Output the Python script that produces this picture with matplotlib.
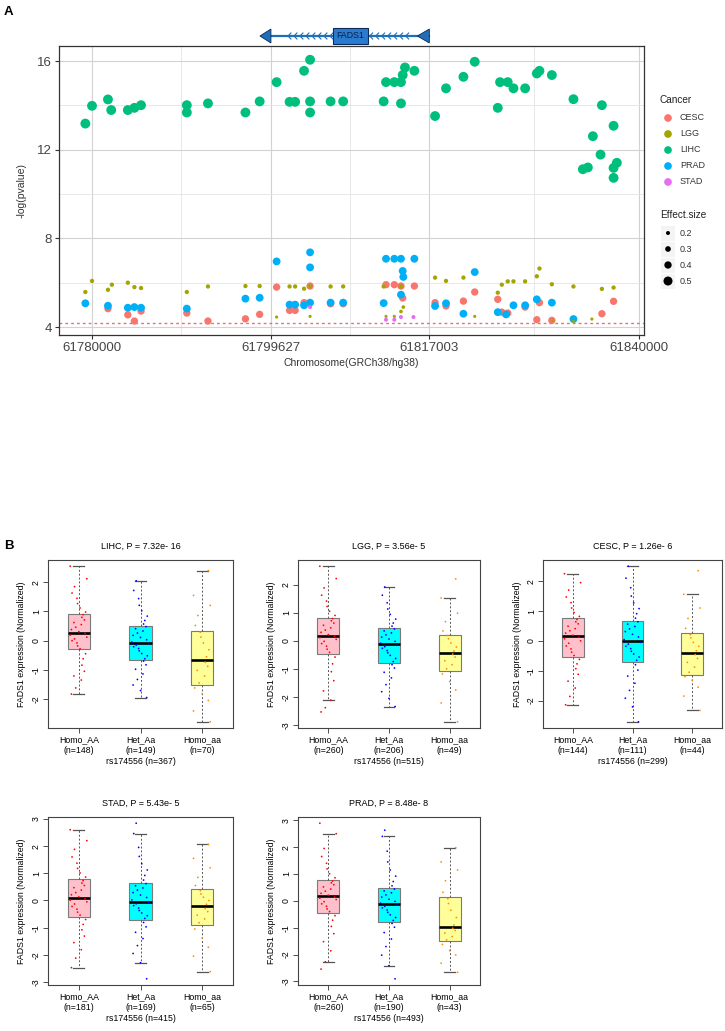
import numpy as np
import matplotlib
matplotlib.use("Agg")
import matplotlib.pyplot as plt
from matplotlib.patches import Rectangle, Polygon

plt.rcParams['font.family'] = ['Liberation Sans', 'DejaVu Sans']

# ---------------- Panel A data ----------------
X_TICKS = [61780000, 61799627, 61817003, 61840000]
Y_TICKS = [4, 8, 12, 16]
GENE_NAME = "FADS1"
GENE_START, GENE_END = 61799627, 61817003
THRESHOLD = 4.17

CANCERS = ["CESC", "LGG", "LIHC", "PRAD", "STAD"]
CANCER_COLORS = ["#F8766D", "#A3A500", "#00BF7D", "#00B0F6", "#E76BF3"]
SIZE_BREAKS = [0.2, 0.3, 0.4, 0.5]

LIHC_POS = [61779270, 61780000, 61781750, 61782110, 61783930, 61784650, 61785380,
            61790400, 61790400, 61792720, 61796830, 61798390, 61800250, 61801670,
            61802280, 61803260, 61803920, 61803920, 61803920, 61806170, 61807550,
            61811990, 61812250, 61813160, 61813890, 61813890, 61814080, 61814330,
            61815360, 61817630, 61818830, 61820740, 61821980, 61824510, 61824760,
            61825600, 61826230, 61827510, 61828790, 61829080, 61830440, 61832810,
            61835930, 61837210, 61834940, 61835780, 61833840, 61834390, 61837210,
            61837570, 61837210]
LIHC_LOGP = [13.18, 13.98, 14.27, 13.79, 13.79, 13.89, 14.01, 14.01, 13.68, 14.09,
             13.68, 14.18, 15.05, 14.16, 14.16, 15.56, 16.06, 14.18, 13.68, 14.18,
             14.18, 14.18, 15.05, 15.05, 15.05, 14.09, 15.37, 15.71, 15.56, 13.52,
             14.77, 15.29, 15.97, 13.89, 15.05, 15.05, 14.77, 14.77, 15.44, 15.56,
             15.37, 14.28, 14.01, 13.08, 12.61, 11.78, 11.12, 11.20, 11.18, 11.41,
             10.73]
LIHC_ES = 0.55

PRAD_POS = [61779270, 61781750, 61783930, 61784650, 61785380, 61790400, 61796830,
            61798390, 61800250, 61801670, 61802280, 61803260, 61803920, 61803920,
            61803920, 61806170, 61807550, 61811990, 61812250, 61813160, 61813890,
            61815360, 61814080, 61814150, 61813890, 61817630, 61818830, 61820740,
            61821980, 61824510, 61825420, 61826230, 61827510, 61828790, 61830440,
            61832810]
PRAD_LOGP = [5.07, 4.96, 4.87, 4.90, 4.87, 4.83, 5.28, 5.32, 6.96, 5.01, 5.01, 4.98,
             7.37, 6.69, 5.10, 5.10, 5.10, 5.08, 7.08, 7.08, 7.08, 7.08, 6.53, 6.26,
             5.46, 4.95, 5.07, 4.60, 6.48, 4.67, 4.57, 4.98, 4.98, 5.25, 5.10, 4.36]
PRAD_ES = 0.43

CESC_POS = [61781750, 61783930, 61784650, 61785380, 61790400, 61792720, 61796830,
            61798390, 61800250, 61801670, 61802280, 61803260, 61803920, 61806170,
            61807550, 61812250, 61813160, 61813890, 61815360, 61814080, 61817630,
            61818830, 61820740, 61821980, 61824510, 61824950, 61825600, 61827510,
            61828790, 61829080, 61830440, 61835930, 61837210]
CESC_LOGP = [4.83, 4.55, 4.27, 4.72, 4.63, 4.27, 4.37, 4.57, 5.80, 4.75, 4.75, 5.10,
             5.85, 5.05, 5.05, 5.91, 5.91, 5.85, 5.85, 5.31, 5.10, 4.95, 5.17, 5.58,
             5.25, 4.67, 4.63, 4.90, 4.33, 5.10, 4.30, 4.60, 5.16]
CESC_ES = 0.40

LGG_POS = [61779270, 61780000, 61781750, 61782180, 61783930, 61784650, 61785380,
           61790400, 61792720, 61796830, 61798390, 61800250, 61801670, 61802280,
           61803260, 61803920, 61803920, 61806170, 61807550, 61811990, 61813890,
           61814150, 61813890, 61812250, 61813160, 61817630, 61818830, 61820740,
           61821980, 61824510, 61824950, 61825600, 61826230, 61827510, 61828790,
           61829080, 61830440, 61830550, 61832810, 61832810, 61834830, 61835930,
           61837210]
LGG_LOGP = [5.58, 6.08, 5.68, 5.91, 6.00, 5.80, 5.76, 5.58, 5.83, 5.85, 5.85, 4.45,
            5.83, 5.83, 5.73, 5.83, 4.48, 5.83, 5.83, 5.83, 5.83, 4.90, 4.70, 4.48,
            4.48, 6.23, 6.08, 6.23, 4.48, 5.55, 5.91, 6.06, 6.06, 6.06, 6.29, 6.64,
            5.93, 4.30, 5.83, 4.25, 4.36, 5.72, 5.78]
LGG_ES = [0.22, 0.22, 0.22, 0.22, 0.22, 0.22, 0.22, 0.22, 0.22, 0.22, 0.22, 0.15,
          0.22, 0.22, 0.22, 0.22, 0.15, 0.22, 0.22, 0.22, 0.22, 0.18, 0.18, 0.15,
          0.15, 0.22, 0.22, 0.22, 0.15, 0.22, 0.22, 0.22, 0.22, 0.22, 0.22, 0.22,
          0.22, 0.15, 0.22, 0.15, 0.15, 0.22, 0.22]

STAD_POS = [61803920, 61812250, 61813160, 61813890, 61815260]
STAD_LOGP = [4.90, 4.33, 4.33, 4.45, 4.45]
STAD_ES = 0.20

# ---------------- Panel B data ----------------
GENOTYPES = ["Homo_AA", "Het_Aa", "Homo_aa"]
SNP = "rs174556"
BOX_FILLS = ["#FFC0CB", "#00FFFF", "#FFFF99"]
POINT_COLORS = ["#FF0000", "#0000FF", "#FF8C00"]

# (whislo, q1, median, q3, whishi) per genotype
LIHC_BOX = [(-1.83, -0.30, 0.27, 0.92, 2.55), (-1.95, -0.65, -0.08, 0.51, 2.05), (-2.78, -1.53, -0.68, 0.34, 2.40)]
LGG_BOX = [(-2.11, -0.46, 0.18, 0.82, 2.65), (-2.34, -0.79, -0.13, 0.46, 1.91), (-2.88, -1.08, -0.42, 0.22, 1.52)]
CESC_BOX = [(-2.14, -0.55, 0.15, 0.76, 2.25), (-2.71, -0.71, -0.01, 0.68, 2.50), (-2.33, -1.14, -0.40, 0.25, 1.56)]
STAD_BOX = [(-2.47, -0.60, 0.08, 0.78, 2.60), (-2.29, -0.72, -0.04, 0.66, 2.46), (-2.62, -0.89, -0.22, 0.41, 2.06)]
PRAD_BOX = [(-2.27, -0.46, 0.17, 0.78, 2.50), (-2.41, -0.79, -0.13, 0.48, 2.40), (-2.66, -1.50, -0.99, 0.15, 1.98)]

LIHC_N = [148, 149, 70]
LGG_N = [260, 206, 49]
CESC_N = [144, 111, 44]
STAD_N = [181, 169, 65]
PRAD_N = [260, 190, 43]

PVALUES = {"LIHC": "7.32e- 16", "LGG": "3.56e- 5", "CESC": "1.26e- 6",
           "STAD": "5.43e- 5", "PRAD": "8.48e- 8"}

LIHC_AA = [-1.83, -1.62, -1.35, -1.21, -1.05, -0.84, -0.62, -0.45, -0.28, -0.18, -0.08, 0.0,
           0.06, 0.12, 0.19, 0.25, 0.31, 0.38, 0.46, 0.55, 0.62, 0.71, 0.80, 0.89,
           0.98, 1.12, 1.27, 1.45, 1.63, 1.85, 2.12, 2.55]
LIHC_Aa = [-1.95, -1.71, -1.52, -1.33, -1.14, -0.98, -0.83, -0.70, -0.62, -0.52, -0.44, -0.35,
           -0.27, -0.21, -0.15, -0.10, -0.05, 0.03, 0.11, 0.18, 0.26, 0.33, 0.41, 0.48,
           0.57, 0.69, 0.84, 1.02, 1.21, 1.44, 1.72, 2.05]
LIHC_aa = [-2.78, -2.41, -2.05, -1.82, -1.62, -1.45, -1.21, -1.02, -0.88, -0.74,
           -0.55, -0.31, -0.08, 0.12, 0.29, 0.52, 0.86, 1.21, 1.55, 2.40]

LGG_AA = [-2.53, -2.38, -2.11, -1.78, -1.42, -1.10, -0.82, -0.58, -0.41, -0.30, -0.19, -0.10,
          -0.02, 0.05, 0.11, 0.16, 0.22, 0.30, 0.38, 0.46, 0.55, 0.63, 0.71, 0.79,
          0.90, 1.05, 1.22, 1.41, 1.62, 1.88, 2.21, 2.65]
LGG_Aa = [-2.34, -2.05, -1.81, -1.56, -1.32, -1.12, -0.97, -0.85, -0.74, -0.63, -0.52, -0.43,
          -0.35, -0.27, -0.21, -0.16, -0.09, -0.02, 0.06, 0.13, 0.21, 0.28, 0.35, 0.42,
          0.52, 0.63, 0.77, 0.94, 1.13, 1.35, 1.62, 1.91]
LGG_aa = [-2.88, -2.21, -1.75, -1.45, -1.18, -1.0, -0.85, -0.71, -0.58, -0.47,
          -0.36, -0.22, -0.08, 0.07, 0.19, 0.35, 0.68, 0.98, 1.52, 2.20]

CESC_AA = [-2.14, -1.86, -1.58, -1.35, -1.12, -0.93, -0.77, -0.62, -0.49, -0.38, -0.27, -0.17,
           -0.08, 0.0, 0.07, 0.12, 0.19, 0.26, 0.34, 0.41, 0.49, 0.57, 0.64, 0.72,
           0.82, 0.95, 1.10, 1.28, 1.47, 1.70, 1.95, 2.25]
CESC_Aa = [-2.71, -2.21, -1.92, -1.66, -1.42, -1.18, -0.98, -0.80, -0.65, -0.54, -0.44, -0.35,
           -0.26, -0.18, -0.11, -0.05, 0.04, 0.13, 0.22, 0.31, 0.40, 0.48, 0.56, 0.64,
           0.76, 0.91, 1.08, 1.27, 1.50, 1.78, 2.10, 2.50]
CESC_aa = [-2.33, -1.85, -1.55, -1.32, -1.20, -1.05, -0.88, -0.72, -0.59, -0.46,
           -0.33, -0.18, -0.05, 0.10, 0.21, 0.42, 0.75, 1.10, 1.56, 2.35]

STAD_AA = [-2.47, -2.12, -1.81, -1.55, -1.31, -1.08, -0.88, -0.70, -0.54, -0.43, -0.32, -0.22,
           -0.13, -0.05, 0.01, 0.06, 0.13, 0.21, 0.29, 0.38, 0.47, 0.55, 0.64, 0.73,
           0.86, 1.01, 1.18, 1.37, 1.60, 1.88, 2.20, 2.60]
STAD_Aa = [-2.88, -2.29, -1.95, -1.66, -1.40, -1.17, -0.97, -0.81, -0.66, -0.56, -0.46, -0.37,
           -0.28, -0.19, -0.12, -0.07, 0.02, 0.11, 0.20, 0.29, 0.38, 0.46, 0.54, 0.62,
           0.75, 0.92, 1.12, 1.35, 1.62, 1.95, 2.46, 2.84]
STAD_aa = [-2.62, -2.05, -1.72, -1.38, -1.05, -0.82, -0.68, -0.54, -0.41, -0.30,
           -0.14, 0.0, 0.12, 0.24, 0.36, 0.55, 0.85, 1.20, 1.55, 2.06]

PRAD_AA = [-2.54, -2.27, -1.86, -1.52, -1.22, -0.95, -0.72, -0.55, -0.40, -0.30, -0.20, -0.11,
           -0.03, 0.05, 0.10, 0.14, 0.21, 0.28, 0.36, 0.44, 0.52, 0.60, 0.67, 0.74,
           0.86, 1.01, 1.19, 1.40, 1.65, 1.95, 2.50, 2.89]
PRAD_Aa = [-2.90, -2.41, -2.02, -1.70, -1.42, -1.18, -0.98, -0.84, -0.73, -0.62, -0.52, -0.43,
           -0.34, -0.26, -0.20, -0.16, -0.09, -0.02, 0.06, 0.14, 0.22, 0.30, 0.37, 0.44,
           0.56, 0.72, 0.92, 1.15, 1.45, 1.85, 2.40, 2.63]
PRAD_aa = [-2.66, -2.32, -2.01, -1.85, -1.62, -1.45, -1.33, -1.20, -1.10, -1.02,
           -0.90, -0.62, -0.35, -0.10, 0.08, 0.32, 0.75, 1.15, 1.45, 1.98]

# jitter pattern (style only)
JITTER = [-0.12, 0.05, -0.03, 0.10, -0.08, 0.02, 0.13, -0.05, 0.07, -0.11, 0.0,
          0.09, -0.02, -0.14, 0.04, 0.11, -0.07]

# ---------------- Figure ----------------
W, H = 725, 1031
fig = plt.figure(figsize=(W / 100, H / 100), dpi=100)


def add_ax(l, t, r, b):
    return fig.add_axes([l / W, 1 - b / H, (r - l) / W, (b - t) / H])


def es_to_s(es):
    d_px = 4 + (np.asarray(es) - 0.2) * 16.7
    return (d_px * 0.72) ** 2


XLIM = (61776380, 61840548)

ax = add_ax(59, 46, 644, 335)
ax.set_xlim(*XLIM)
ax.set_ylim(3.64, 16.68)
ax.set_xticks(X_TICKS)
ax.set_xticklabels([str(t) for t in X_TICKS])
ax.set_xticks([(a + b) / 2 for a, b in zip(X_TICKS[:-1], X_TICKS[1:])], minor=True)
ax.set_yticks(Y_TICKS)
ax.set_yticks([(a + b) / 2 for a, b in zip(Y_TICKS[:-1], Y_TICKS[1:])], minor=True)
ax.grid(which='major', color='#d2d2d2', lw=0.8)
ax.grid(which='minor', color='#e4e4e4', lw=0.6)
ax.set_axisbelow(True)
ax.tick_params(which='minor', length=0)
ax.tick_params(which='major', length=3, color='#333333', labelsize=9.5,
               labelcolor='#444444', pad=2)
for s in ax.spines.values():
    s.set_color('#333333')
    s.set_linewidth(0.9)
ax.axhline(THRESHOLD, color='#e8707a', lw=1.0, ls=(0, (2, 2.2)), zorder=1)

series = [
    ("CESC", CESC_POS, CESC_LOGP, CESC_ES),
    ("LIHC", LIHC_POS, LIHC_LOGP, LIHC_ES),
    ("PRAD", PRAD_POS, PRAD_LOGP, PRAD_ES),
    ("LGG", LGG_POS, LGG_LOGP, LGG_ES),
    ("STAD", STAD_POS, STAD_LOGP, STAD_ES),
]
for name, pos, lp, es in series:
    col = CANCER_COLORS[CANCERS.index(name)]
    ax.scatter(pos, lp, s=es_to_s(es), color=col, edgecolors='none', zorder=3)

fig.text(351 / W, 1 - 363 / H, "Chromosome(GRCh38/hg38)", ha='center', va='center',
         fontsize=7.5, color='#333333')
fig.text(22 / W, 1 - 190 / H, "-log(pvalue)", ha='center', va='center',
         rotation=90, fontsize=7.5, color='#333333')

# gene track
gax = add_ax(59, 20, 644, 52)
gax.set_xlim(*XLIM)
gax.set_ylim(52, 20)
gax.axis('off')
bp_px = (XLIM[1] - XLIM[0]) / 585.0
y0 = 36
gcol = '#1f6fb8'
gax.plot([GENE_START, GENE_END], [y0, y0], color=gcol, lw=1.6, zorder=2)
gax.add_patch(Polygon([[GENE_START, y0 - 7], [GENE_START, y0 + 7],
                       [GENE_START - 11 * bp_px, y0]], closed=True,
                      facecolor=gcol, edgecolor='#0d2a5a', lw=0.6, zorder=3))
gax.add_patch(Polygon([[GENE_END, y0 - 7], [GENE_END, y0 + 7],
                       [GENE_END - 12 * bp_px, y0]], closed=True,
                      facecolor=gcol, edgecolor='#0d2a5a', lw=0.6, zorder=3))
mid = (GENE_START + GENE_END) / 2
box_w = 35 * bp_px
for seg in (np.arange(GENE_START + 17 * bp_px, mid - box_w / 2 - 2 * bp_px, 6 * bp_px),
            np.arange(mid + box_w / 2 + 2 * bp_px, GENE_END - 19 * bp_px, 6 * bp_px)):
    for xc in seg:
        gax.plot([xc + 3 * bp_px, xc, xc + 3 * bp_px], [y0 - 3, y0, y0 + 3],
                 color=gcol, lw=0.8, zorder=2)
gax.add_patch(Rectangle((mid - box_w / 2, 28), box_w, 16, facecolor='#2a7bd0',
                        edgecolor='#0d2a5a', lw=0.8, zorder=4))
gax.text(mid, y0, GENE_NAME, ha='center', va='center', fontsize=6.3,
         color='#0b1f44', zorder=5, fontstretch='condensed')

# legend
lax = add_ax(650, 85, 725, 300)
lax.set_xlim(650, 725)
lax.set_ylim(300, 85)
lax.axis('off')
lax.text(660, 100, "Cancer", fontsize=7.2, va='center', ha='left', color='#222222')
for i, (c, col) in enumerate(zip(CANCERS, CANCER_COLORS)):
    yy = 118 + i * 16
    lax.scatter([668], [yy], s=es_to_s(0.42), color=col, edgecolors='none')
    lax.text(680, yy, c, fontsize=6.5, va='center', ha='left', color='#333333')
lax.text(660, 215, "Effect.size", fontsize=7.2, va='center', ha='left', color='#222222')
for i, b in enumerate(SIZE_BREAKS):
    yy = 233 + i * 16
    lax.add_patch(Rectangle((661, yy - 7.5), 14, 15, facecolor='#f4f4f4',
                            edgecolor='none'))
    lax.scatter([668], [yy], s=es_to_s(b), color='black', edgecolors='none')
    lax.text(680, yy, f"{b}", fontsize=6.5, va='center', ha='left', color='#333333')

fig.text(4 / W, 1 - 12 / H, "A", fontsize=9.5, fontweight='bold', va='center')
fig.text(4 / W, 1 - 546 / H, "B", fontsize=9.5, fontweight='bold', va='center')

# ---------------- Panel B ----------------
panels = [
    ("LIHC", LIHC_BOX, LIHC_N, [LIHC_AA, LIHC_Aa, LIHC_aa], (48, 560, 233, 728)),
    ("LGG", LGG_BOX, LGG_N, [LGG_AA, LGG_Aa, LGG_aa], (298, 560, 480, 728)),
    ("CESC", CESC_BOX, CESC_N, [CESC_AA, CESC_Aa, CESC_aa], (543, 560, 722, 728)),
    ("STAD", STAD_BOX, STAD_N, [STAD_AA, STAD_Aa, STAD_aa], (48, 817, 233, 985)),
    ("PRAD", PRAD_BOX, PRAD_N, [PRAD_AA, PRAD_Aa, PRAD_aa], (298, 817, 480, 985)),
]
for name, boxes, ns, pts, rect in panels:
    bax = add_ax(*rect)
    stats = []
    for (lo, q1, med, q3, hi) in boxes:
        stats.append(dict(whislo=lo, q1=q1, med=med, q3=q3, whishi=hi, fliers=[]))
    bp = bax.bxp(stats, positions=[1, 2, 3], widths=0.36, patch_artist=True,
                 showfliers=False, capwidths=0.18,
                 boxprops=dict(edgecolor='#7a7a7a', linewidth=0.8),
                 medianprops=dict(color='black', linewidth=1.9),
                 whiskerprops=dict(color='#555555', linestyle=(0, (2, 2)), linewidth=0.7),
                 capprops=dict(color='#555555', linewidth=0.9))
    for patch, fc in zip(bp['boxes'], BOX_FILLS):
        patch.set_facecolor(fc)
    allv = []
    for gi, (vals, pc) in enumerate(zip(pts, POINT_COLORS)):
        xs = [gi + 1 + JITTER[(k * 7 + gi * 3) % len(JITTER)] for k in range(len(vals))]
        bax.scatter(xs, vals, s=1.6, color=pc, edgecolors='none', zorder=4)
        allv += list(vals)
    for b in boxes:
        allv += list(b)
    lo, hi = min(allv), max(allv)
    span = hi - lo
    bax.set_ylim(lo - 0.04 * span, hi + 0.04 * span)
    bax.set_xlim(0.5, 3.5)
    yt = [t for t in range(-3, 4) if lo - 0.04 * span <= t <= hi + 0.04 * span]
    bax.set_yticks(yt)
    bax.set_yticklabels([str(t) for t in yt], rotation=90, va='center')
    bax.set_xticks([1, 2, 3])
    bax.set_xticklabels([f"{g}\n(n={n})" for g, n in zip(GENOTYPES, ns)],
                        linespacing=1.25)
    bax.tick_params(axis='both', labelsize=6.3, length=3.5, width=0.6,
                    color='#333333', pad=2)
    bax.tick_params(axis='y', pad=1.5)
    bax.set_xlabel(f"{SNP} (n={sum(ns)})", fontsize=6.3, labelpad=1)
    bax.set_ylabel("FADS1 expression (Normalized)", fontsize=6.3, labelpad=4)
    bax.set_title(f"{name}, P = {PVALUES[name]}", fontsize=6.5, pad=8)
    for s in bax.spines.values():
        s.set_color('#444444')
        s.set_linewidth(0.8)

fig.savefig("out.png", dpi=100)
